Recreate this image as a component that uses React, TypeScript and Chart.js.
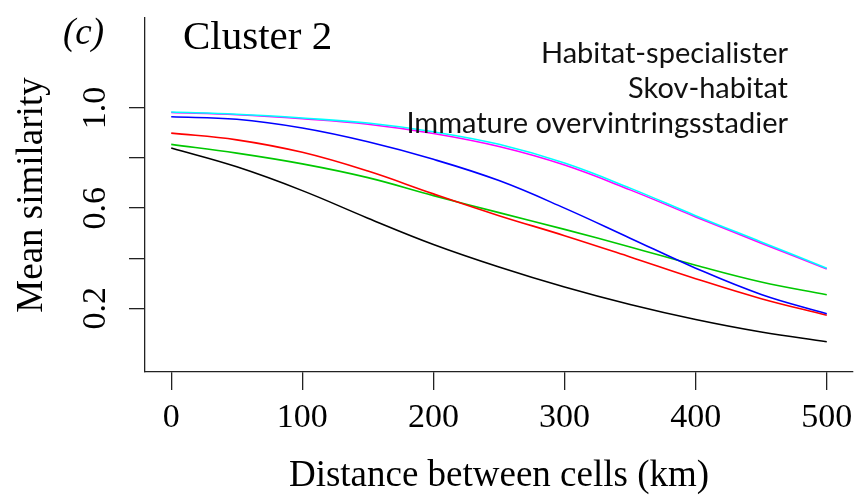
import React, { useEffect, useRef } from "react";
import { Chart, registerables } from "chart.js";

Chart.register(...registerables);

const distances = [0, 50, 100, 150, 200, 250, 300, 350, 400, 450, 500];
const cyanValues = [0.984, 0.975, 0.96, 0.94, 0.905, 0.855, 0.78, 0.68, 0.57, 0.465, 0.36];
const magentaValues = [0.982, 0.973, 0.957, 0.935, 0.898, 0.846, 0.772, 0.673, 0.565, 0.46, 0.357];
const blueValues = [0.965, 0.955, 0.92, 0.865, 0.795, 0.71, 0.6, 0.48, 0.36, 0.255, 0.178];
const redValues = [0.9, 0.873, 0.823, 0.748, 0.657, 0.57, 0.49, 0.405, 0.318, 0.238, 0.172];
const greenValues = [0.855, 0.82, 0.777, 0.722, 0.65, 0.582, 0.515, 0.445, 0.372, 0.305, 0.254];
const blackValues = [0.84, 0.765, 0.67, 0.56, 0.455, 0.365, 0.285, 0.215, 0.155, 0.105, 0.066];

const xTicks = [0, 100, 200, 300, 400, 500];
const yTicks = [0.2, 0.4, 0.6, 0.8, 1.0];
const yLabelledTicks = [0.2, 0.6, 1.0];
const panelLabel = "(c)";
const clusterTitle = "Cluster 2";
const annotationLines = ["Habitat-specialister", "Skov-habitat", "Immature overvintringsstadier"];
const xTitle = "Distance between cells (km)";
const yTitle = "Mean similarity";

const series = [
  { name: "cyan", values: cyanValues, color: "#00FFFF" },
  { name: "magenta", values: magentaValues, color: "#FF00FF" },
  { name: "blue", values: blueValues, color: "#0000FF" },
  { name: "red", values: redValues, color: "#FF0000" },
  { name: "green", values: greenValues, color: "#00C800" },
  { name: "black", values: blackValues, color: "#000000" },
];

const SERIF = '"Liberation Serif", "Times New Roman", serif';
const SANS = 'Lato, "Noto Sans", sans-serif';

const textPlugin = {
  id: "panelText",
  afterDraw(chart: any) {
    const ctx = chart.ctx;
    ctx.save();
    ctx.fillStyle = "#000";
    ctx.textBaseline = "alphabetic";
    ctx.textAlign = "left";
    ctx.font = `italic 37px ${SERIF}`;
    ctx.fillText(panelLabel, 63, 44);
    ctx.font = `41px ${SERIF}`;
    ctx.fillText(clusterTitle, 183, 49);
    ctx.textAlign = "right";
    ctx.font = `29px ${SANS}`;
    ctx.fillStyle = "#111";
    const baselines = [63, 98, 133];
    annotationLines.forEach((t, i) => ctx.fillText(t, 788, baselines[i]));
    ctx.restore();
  },
};

export default function App() {
  const canvasRef = useRef<HTMLCanvasElement | null>(null);

  useEffect(() => {
    const canvas = canvasRef.current;
    if (!canvas) return;
    const chart = new Chart(canvas, {
      type: "line",
      data: {
        datasets: series.map((s) => ({
          label: s.name,
          data: distances.map((d, i) => ({ x: d, y: s.values[i] })),
          borderColor: s.color,
          backgroundColor: s.color,
          borderWidth: 1.6,
          pointRadius: 0,
          fill: false,
          tension: 0.4,
        })),
      },
      options: {
        responsive: false,
        animation: false,
        devicePixelRatio: 1,
        layout: { padding: { top: 18, right: 3, left: 0, bottom: 0 } },
        plugins: {
          legend: { display: false },
          tooltip: { enabled: false },
          title: { display: false },
        },
        scales: {
          x: {
            type: "linear",
            min: -20,
            max: 520,
            afterFit: (scale: any) => {
              scale.height = 126;
              scale.paddingLeft = 0;
              scale.paddingRight = 0;
            },
            afterBuildTicks: (scale: any) => {
              scale.ticks = xTicks.map((v) => ({ value: v }));
            },
            grid: {
              display: true,
              drawOnChartArea: false,
              drawTicks: true,
              tickLength: 18,
              color: "#222",
              lineWidth: 1.3,
            },
            border: { display: true, color: "#222", width: 1.3 },
            ticks: {
              color: "#000",
              font: { family: SERIF, size: 34 },
              padding: 8,
              maxRotation: 0,
              autoSkip: false,
              callback: (v: any) => String(v),
            },
            title: {
              display: true,
              text: xTitle,
              color: "#000",
              font: { family: SERIF, size: 37 },
              padding: { top: 0, bottom: 0 },
            },
          },
          y: {
            type: "linear",
            min: -0.055,
            max: 1.36,
            afterFit: (scale: any) => {
              scale.width = 145;
              scale.paddingTop = 0;
              scale.paddingBottom = 0;
            },
            afterBuildTicks: (scale: any) => {
              scale.ticks = yTicks.map((v) => ({ value: v }));
            },
            grid: {
              display: true,
              drawOnChartArea: false,
              drawTicks: true,
              tickLength: 16,
              color: "#222",
              lineWidth: 1.3,
            },
            border: { display: true, color: "#222", width: 1.3 },
            ticks: {
              color: "#000",
              font: { family: SERIF, size: 34 },
              padding: 12,
              minRotation: 90,
              maxRotation: 90,
              crossAlign: "center",
              autoSkip: false,
              callback: (v: any) =>
                yLabelledTicks.some((t) => Math.abs(t - Number(v)) < 1e-6) ? Number(v).toFixed(1) : "",
            },
            title: {
              display: true,
              text: yTitle,
              color: "#000",
              font: { family: SERIF, size: 37 },
              padding: { top: 10, bottom: 0 },
            },
          },
        },
      },
      plugins: [textPlugin],
    });
    return () => chart.destroy();
  }, []);

  return (
    <div style={{ position: "absolute", left: 0, top: 0, width: 856, height: 498, background: "#fff" }}>
      <canvas ref={canvasRef} width={856} height={498} style={{ display: "block" }} />
    </div>
  );
}
